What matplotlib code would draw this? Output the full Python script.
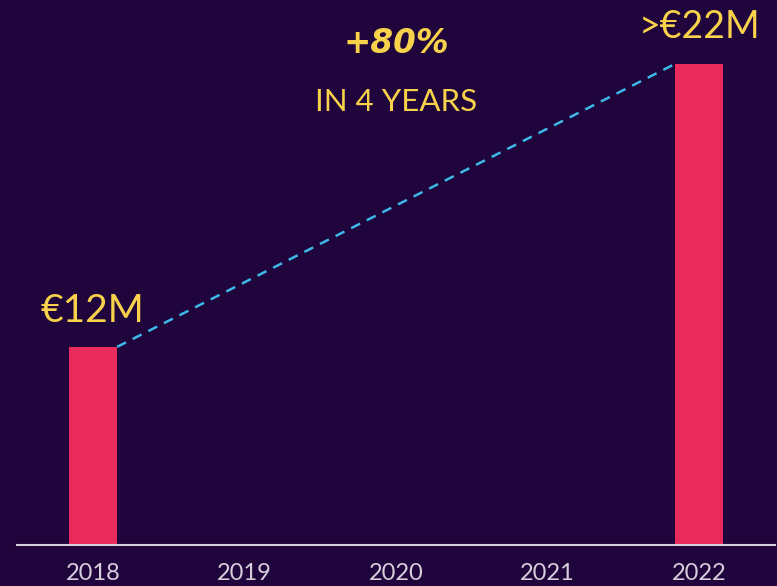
import numpy as np
import matplotlib
matplotlib.use('Agg')
from matplotlib import pyplot as plt

# data
years = [2018, 2019, 2020, 2021, 2022]
bar_years = [2018, 2022]
revenue = [12, 22]           # million EUR
bar_labels = ['€12M', '>€22M']
growth_label = '+80%'
growth_sub = 'IN 4 YEARS'

BG = '#20043c'
PINK = '#ea2a5a'
YELLOW = '#f9d24b'
CYAN = '#3cb9e8'
LIGHT = '#d6cfdc'

plt.rcParams['font.family'] = ['Lato', 'DejaVu Sans']

fig = plt.figure(figsize=(7.77, 5.86), dpi=100, facecolor=BG)
ax = fig.add_axes([17 / 777, 41 / 586, 758 / 777, 545 / 586])
ax.set_facecolor(BG)

width = 0.32
ax.bar(bar_years, revenue, width=width, color=PINK, zorder=2)

# dashed growth line from top of first bar to top of last bar
ax.plot([bar_years[0] + width / 2, bar_years[-1] - width / 2], revenue,
        ls=(0, (4, 3)), color=CYAN, lw=1.8, zorder=3)

# value labels
ax.text(bar_years[0], revenue[0] + 0.88, bar_labels[0], ha='center', va='baseline',
        fontsize=28, color=YELLOW)
ax.text(bar_years[-1], revenue[-1] + 0.92, bar_labels[1], ha='center', va='baseline',
        fontsize=27, color=YELLOW)

mid = np.mean(bar_years)
ax.text(mid, 22.39, growth_label, ha='center', va='baseline', fontsize=23.5,
        color=YELLOW, fontweight='bold', style='italic', family='DejaVu Sans')
ax.text(mid, 20.34, growth_sub, ha='center', va='baseline', fontsize=22.5,
        color=YELLOW)

ax.set_xlim(2017.5, 2022.5)
ax.set_ylim(5, 24.26)
ax.set_xticks(years)
ax.set_xticklabels([str(y) for y in years])
ax.tick_params(axis='x', length=0, pad=13, labelsize=17, labelcolor=LIGHT)
ax.set_yticks([])
for s in ['top', 'left', 'right']:
    ax.spines[s].set_visible(False)
ax.spines['bottom'].set_color(LIGHT)
ax.spines['bottom'].set_linewidth(1.5)

fig.savefig('out.png', dpi=100, facecolor=BG)
